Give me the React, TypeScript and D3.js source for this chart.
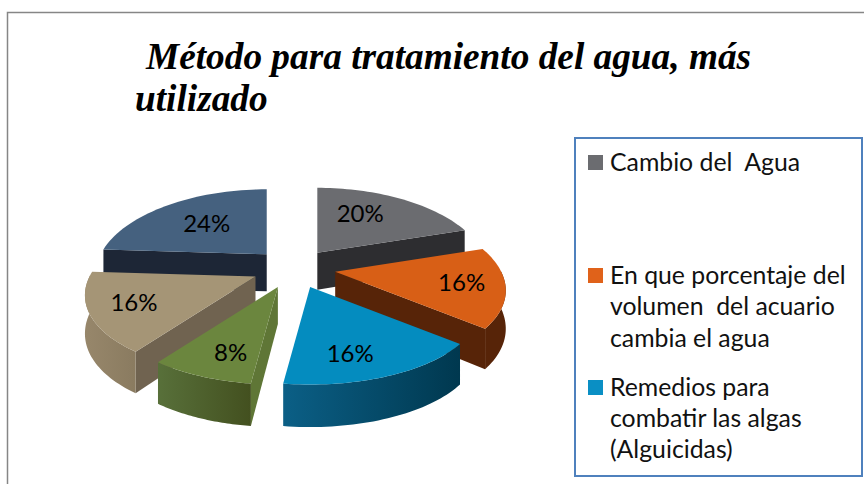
import React from "react";
import * as d3 from "d3";

const titleLines = ["Método para tratamiento del agua, más", "utilizado"];
const categories = ["Cambio del Agua", "En que porcentaje", "Remedios", "Cat4", "Cat5", "Cat6"];
const values = [20, 16, 16, 8, 16, 24];
const topColors = ["#6b6c70", "#d85f16", "#048cbf", "#6b863e", "#a59576", "#45617f"];
const edgeColors = ["#2d2d30", "#572408", "#0b4a66", "#5f7636", "#706350", "#1d2636"];
const wallLeft = ["#2d2d30", "#572408", "#0b5f86", "#58703a", "#97876b", "#1d2636"];
const wallRight = ["#2d2d30", "#572408", "#00384f", "#43501f", "#8a7b60", "#1d2636"];
const labelRadius = [0.62, 0.75, 0.76, 0.76, 0.75, 0.58];
const labelTurn = [-0.14, 0, 0.11, -0.06, 0, 0];
const paintOrder = [5, 0, 4, 1, 3, 2];
const legendItems = [
  { color: "#6b6c70", lines: ["Cambio del\u00a0 Agua"] },
  { color: "#e0621a", lines: ["En que porcentaje del", "volumen\u00a0 del acuario", "cambia el agua"] },
  { color: "#0a8fc4", lines: ["Remedios para", "combatir las algas", "(Alguicidas)"] },
];

const W = 864, H = 484;
const cx = 294, cy = 268, R = 166, Ry = 78, kx = 0.23, ky = 0.2, explode = 0.25, depth = 37;
const sansFont = "Lato, Carlito, 'Open Sans', sans-serif";

type P = [number, number];
// (u, v) on the unit disc, v towards the back; perspective-squeezed
const proj = (u: number, v: number): P => [
  (R * u) / (1 + kx * v),
  (-Ry * v) / (1 + ky * v),
];
const polar = (a: number, r: number): P => proj(r * Math.sin(a), r * Math.cos(a));
const down = (a: number, r: number) => depth * (1 - 0.15 * r * Math.cos(a));
const line = d3.line<P>();

const pieGen = d3.pie<number>().sort(null).startAngle(0).endAngle(2 * Math.PI);
const arcs = pieGen(values);

function sliceShapes(i: number) {
  const { startAngle: a0, endAngle: a1 } = arcs[i];
  const mid = (a0 + a1) / 2;
  const [ox, oy] = polar(mid, explode);
  const T = (p: P, dy = 0): P => [cx + ox + p[0], cy + oy + p[1] + dy];
  const angles = d3.range(0, 41).map((t) => a0 + ((a1 - a0) * t) / 40);
  const apex = T([0, 0]);
  const apexB = T([0, 0], depth);
  const rim = angles.map((a) => T(polar(a, 1)));
  const top = `${line([apex, ...rim])}Z`;
  const walls: string[] = [];
  // radial edges: only those whose outward normal faces the viewer
  if (Math.cos(a0 - Math.PI / 2) < 0) {
    const e = T(polar(a0, 1));
    const eB = T(polar(a0, 1), down(a0, 1));
    walls.push(`${line([apex, e, eB, apexB])}Z`);
  }
  if (Math.cos(a1 + Math.PI / 2) < 0) {
    const e = T(polar(a1, 1));
    const eB = T(polar(a1, 1), down(a1, 1));
    walls.push(`${line([apex, e, eB, apexB])}Z`);
  }
  const front = angles.filter((a) => Math.cos(a) < 0.02);
  let outer = "";
  if (front.length > 1) {
    const upper = front.map((a) => T(polar(a, 1)));
    const lower = front.map((a) => T(polar(a, 1), down(a, 1))).reverse();
    outer = `${line([...upper, ...lower])}Z`;
  }
  const xs = rim.map((p) => p[0]);
  const lab = T(polar(mid + labelTurn[i], labelRadius[i]));
  return { top, walls, outer, x0: d3.min(xs)!, x1: d3.max(xs)!, lab };
}

export default function App() {
  const fmt = d3.format(".0%");
  const total = d3.sum(values);
  const shapes = categories.map((_, i) => sliceShapes(i));
  return (
    <svg
      width={W}
      height={H}
      viewBox={`0 0 ${W} ${H}`}
      style={{ position: "fixed", left: 0, top: 0, display: "block", background: "#fff" }}
    >
      <defs>
        {shapes.map((s, i) => (
          <linearGradient key={i} id={`wall${i}`} gradientUnits="userSpaceOnUse" x1={s.x0} x2={s.x1} y1={0} y2={0}>
            <stop offset="0" stopColor={wallLeft[i]} />
            <stop offset="1" stopColor={wallRight[i]} />
          </linearGradient>
        ))}
      </defs>
      <path d={`M7.5 ${H}V12.5H${W}`} fill="none" stroke="#868686" strokeWidth={1.5} />
      <text fontFamily="'Liberation Serif', serif" fontWeight="bold" fontStyle="italic" fontSize={37.3} fill="#000">
        <tspan x={146} y={69}>{titleLines[0]}</tspan>
        <tspan x={135} y={111}>{titleLines[1]}</tspan>
      </text>
      {paintOrder.map((i) => {
        const s = shapes[i];
        return (
          <g key={i}>
            {s.walls.map((d, j) => (
              <path key={j} d={d} fill={edgeColors[i]} />
            ))}
            {s.outer && <path d={s.outer} fill={`url(#wall${i})`} />}
            <path d={s.top} fill={topColors[i]} />
          </g>
        );
      })}
      {paintOrder.map((i) => (
        <text
          key={i}
          x={shapes[i].lab[0]}
          y={shapes[i].lab[1] + 8}
          textAnchor="middle"
          fontFamily={sansFont}
          fontSize={24}
          fill="#000"
        >
          {fmt(values[i] / total)}
        </text>
      ))}
      <rect x={575} y={138} width={287} height={338} fill="#fff" stroke="#4f81bd" strokeWidth={2} />
      {legendItems.map((item, i) => {
        const baselines = [[171], [284, 315, 347], [396, 427, 458]][i];
        return (
          <g key={i}>
            <rect x={588} y={baselines[0] - 16} width={15} height={15} fill={item.color} />
            {item.lines.map((t, j) => (
              <text key={j} x={610} y={baselines[j]} fontFamily={sansFont} fontSize={24.8} fill="#111">
                {t}
              </text>
            ))}
          </g>
        );
      })}
    </svg>
  );
}
